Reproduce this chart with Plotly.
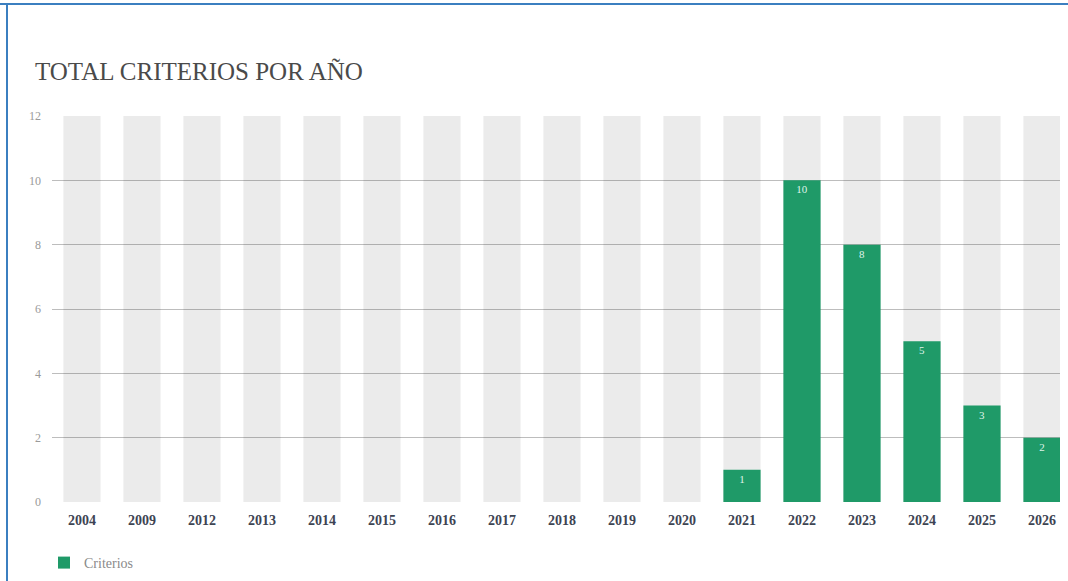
import plotly.graph_objects as go

years = ["2004", "2009", "2012", "2013", "2014", "2015", "2016", "2017", "2018",
         "2019", "2020", "2021", "2022", "2023", "2024", "2025", "2026"]
criterios = [0, 0, 0, 0, 0, 0, 0, 0, 0, 0, 0, 1, 10, 8, 5, 3, 2]
background_max = [12] * len(years)
y_ticks = [0, 2, 4, 6, 8, 10, 12]

W, H = 1068, 581
ML, MR, MT, MB = 52, 8, 116, 79
PW, PH = W - ML - MR, H - MT - MB

def px_x(p):
    return (p - ML) / PW

def px_y(p):
    return (H - MB - p) / PH

SERIF = "Liberation Serif, DejaVu Serif, serif"

fig = go.Figure()
fig.add_trace(go.Bar(
    x=years, y=background_max, marker=dict(color="rgba(0,0,0,0.08)", line=dict(width=0)),
    width=0.62, showlegend=False, hoverinfo="skip"))
fig.add_trace(go.Bar(
    x=years, y=criterios, name="Criterios",
    marker=dict(color="#1f9a68", line=dict(width=0)),
    width=0.62,
    text=[str(v) if v else "" for v in criterios],
    textposition="inside", insidetextanchor="end",
    textfont=dict(family=SERIF, size=11, color="#dff3e8"),
    constraintext="none"))

fig.update_layout(
    width=W, height=H,
    margin=dict(l=ML, r=MR, t=MT, b=MB, autoexpand=False),
    paper_bgcolor="white", plot_bgcolor="white",
    barmode="overlay", bargap=0.38,
    title=dict(text="TOTAL CRITERIOS POR AÑO", x=35 / W, xanchor="left",
               xref="container", yref="container", y=1 - 71 / H, yanchor="middle",
               font=dict(family=SERIF, size=25, color="#4a4a4a")),
    xaxis=dict(type="category", range=[-0.5, 16.3], showgrid=False, showline=False,
               ticks="", ticklabelstandoff=8,
               tickfont=dict(family=SERIF, size=14, color="#3d4452", weight="bold")),
    yaxis=dict(range=[0, 12], tickvals=y_ticks, showgrid=True, gridcolor="#bdbdbd",
               gridwidth=1, zeroline=False, showline=False, ticks="",
               ticklabelstandoff=10,
               tickfont=dict(family=SERIF, size=12, color="#9a9a9a")),
    legend=dict(x=px_x(44), y=px_y(563), xanchor="left", yanchor="middle",
                orientation="h", font=dict(family=SERIF, size=14, color="#8a8a8a"),
                bgcolor="rgba(0,0,0,0)"),
    font=dict(family=SERIF),
    shapes=[
        dict(type="line", xref="paper", yref="paper", x0=px_x(0), x1=px_x(W),
             y0=px_y(4), y1=px_y(4), line=dict(color="#3b7fc0", width=2)),
        dict(type="line", xref="paper", yref="paper", x0=px_x(7), x1=px_x(7),
             y0=px_y(4), y1=px_y(H), line=dict(color="#3b7fc0", width=2)),
    ],
)

fig.write_html("out.html")
